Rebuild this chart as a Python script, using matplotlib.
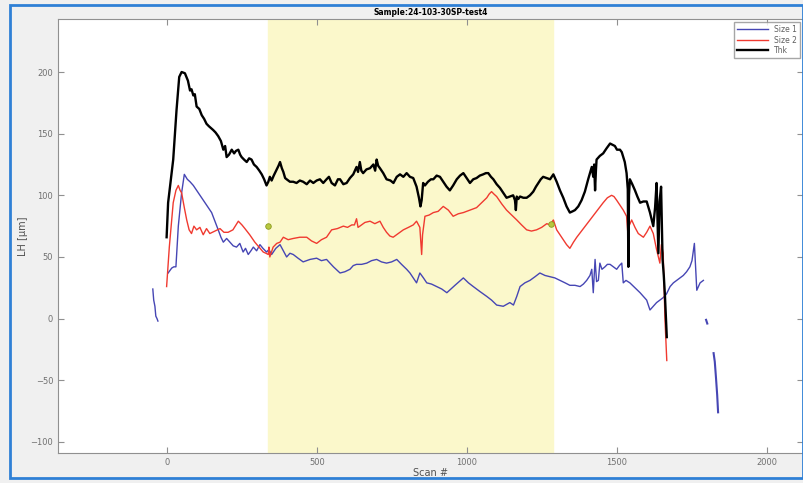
import numpy as np
from matplotlib import pyplot as plt
from matplotlib.patches import Rectangle

# Thk (black)
thk_x = [-1, 4, 21, 32, 41, 49, 60, 70, 77, 82, 88, 93, 99, 108, 116, 124, 132, 140, 154, 162,
         171, 180, 188, 194, 199, 207, 216, 224, 230, 238, 244, 249, 257, 266, 274, 282, 290,
         299, 308, 316, 324, 332, 338, 343, 349, 356, 366, 372, 377, 383, 388, 394, 399, 410,
         421, 432, 443, 454, 466, 477, 488, 499, 510, 521, 532, 540, 549, 560, 570, 577, 588,
         599, 610, 621, 632, 637, 643, 648, 654, 665, 677, 688, 694, 699, 704, 710, 721, 732,
         745, 755, 766, 777, 788, 799, 810, 821, 832, 840, 845, 849, 854, 860, 870, 880, 888,
         899, 910, 921, 932, 943, 954, 966, 977, 988, 999, 1010, 1021, 1032, 1043, 1054, 1063,
         1071, 1080, 1088, 1099, 1110, 1121, 1132, 1143, 1154, 1160, 1163, 1166, 1171, 1177,
         1188, 1199, 1210, 1221, 1230, 1238, 1246, 1254, 1265, 1277, 1288, 1299, 1310, 1321,
         1332, 1343, 1352, 1360, 1371, 1382, 1393, 1404, 1410, 1416, 1421, 1424, 1427, 1430,
         1432, 1443, 1454, 1465, 1477, 1485, 1493, 1500, 1510, 1516, 1521, 1526, 1532, 1536,
         1538, 1540, 1543, 1551, 1560, 1568, 1577, 1588, 1599, 1605, 1610, 1616, 1621, 1627,
         1632, 1635, 1638, 1642, 1647, 1650, 1652, 1656, 1660, 1666]
thk_y = [66, 94, 129, 169, 196, 200, 199, 193, 185, 186, 181, 182, 172, 170, 165, 162, 158, 156, 153, 151,
         148, 144, 137, 140, 131, 133, 137, 134, 136, 137, 133, 131, 129, 127, 130, 129, 125,
         123, 120, 117, 113, 108, 111, 115, 112, 116, 121, 124, 127, 122, 119, 114, 113, 111,
         111, 110, 112, 111, 109, 112, 110, 112, 113, 110, 113, 115, 110, 108, 113, 113, 109,
         110, 114, 117, 123, 119, 127, 120, 118, 121, 122, 125, 120, 129, 124, 122, 118, 113,
         112, 110, 115, 117, 115, 118, 115, 114, 107, 98, 91, 96, 110, 108, 111, 113, 113,
         116, 115, 111, 107, 104, 108, 113, 116, 118, 114, 110, 113, 114, 116, 117, 118,
         118, 115, 113, 109, 106, 102, 98, 99, 100, 96, 88, 99, 97, 99,
         98, 98, 100, 103, 107, 110, 113, 115, 114, 113, 117, 111, 104, 98,
         91, 86, 87, 88, 91, 96, 103, 113, 118, 123, 115, 125, 104, 121,
         129, 132, 134, 138, 142, 141, 140, 137, 137, 135, 131, 127, 118, 105,
         42, 100, 113, 109, 104, 99, 94, 95, 95, 90, 86, 80, 75, 90,
         110, 80, 53, 95, 107, 70, 48, 35, 18, -15]

# Size 2 (red)
s2_x = [-1, 8, 21, 30, 38, 44, 49, 58, 66, 74, 82, 90, 99, 110, 121, 132, 143, 160, 177, 190, 204,
        220, 238, 250, 260, 276, 293, 307, 321, 330, 338, 340, 343, 354, 366, 377, 388, 404, 421,
        443, 466, 482, 499, 515, 532, 549, 568, 588, 602, 616, 625, 632, 637, 643, 660, 677, 693,
        710, 721, 732, 743, 754, 771, 788, 805, 821, 832, 843, 847, 849, 852, 860, 874, 888, 904,
        921, 938, 954, 971, 988, 1010, 1032, 1049, 1066, 1074, 1082, 1090, 1099, 1116, 1132,
        1149, 1166, 1182, 1199, 1215, 1232, 1249, 1266, 1277, 1288, 1299, 1310, 1321, 1332,
        1343, 1355, 1366, 1388, 1410, 1432, 1454, 1468, 1482, 1490, 1499, 1510, 1521, 1532,
        1536, 1538, 1540, 1549, 1560, 1571, 1588, 1599, 1610, 1621, 1627, 1632, 1638, 1643,
        1648, 1654, 1660, 1666]
s2_y = [26, 58, 94, 104, 108, 104, 102, 90, 80, 72, 69, 75, 72, 74, 68, 73, 69, 71, 73, 70, 70,
        72, 79, 76, 73, 68, 62, 58, 54, 53, 52, 58, 50, 58, 61, 62, 66, 64, 65,
        66, 66, 63, 61, 64, 66, 72, 73, 75, 74, 76, 76, 81, 74, 75, 78, 79, 77,
        79, 74, 70, 67, 66, 69, 72, 74, 76, 79, 74, 60, 52, 68, 83, 84, 86, 87,
        91, 88, 83, 85, 86, 88, 90, 94, 98, 101, 103, 101, 99, 93, 88,
        84, 80, 76, 72, 71, 72, 74, 77, 76, 80, 72, 68, 64, 60,
        57, 62, 66, 73, 80, 87, 94, 98, 100, 99, 96, 92, 88, 83,
        70, 42, 75, 80, 74, 69, 66, 70, 75, 69, 62, 56, 50, 45,
        60, 53, -1, -34]

# Size 1 (blue), main trace plus loose fragments
s1_x = [4, 10, 16, 23, 30, 38, 44, 49, 58, 68, 77, 88, 99, 113, 127, 138, 149, 160, 171, 180, 188,
        199, 210, 221, 232, 243, 254, 262, 271, 280, 288, 299, 310, 320, 332, 340, 349, 363, 377,
        388, 399, 410, 421, 437, 454, 477, 499, 515, 532, 555, 577, 593, 610, 621, 632, 649, 666,
        682, 699, 715, 732, 749, 766, 782, 799, 810, 821, 832, 843, 855, 866, 882, 899, 916, 933,
        960, 988, 1005, 1021, 1043, 1066, 1082, 1099, 1121, 1143, 1155, 1166, 1177, 1193, 1210,
        1227, 1243, 1260, 1277, 1293, 1310, 1327, 1343, 1360, 1377, 1388, 1399, 1410, 1416, 1421,
        1427, 1432, 1438, 1443, 1450, 1460, 1468, 1477, 1488, 1499, 1508, 1516, 1521, 1530, 1543,
        1560, 1577, 1588, 1599, 1610, 1621, 1632, 1643, 1654, 1665, 1677, 1688, 1699, 1710, 1721,
        1732, 1743, 1750, 1758, 1766, 1777, 1788]
s1_y = [37, 39, 41, 42, 42, 75, 90, 102, 117, 113, 111, 108, 104, 99, 94, 90, 86, 79, 72, 66, 62,
        65, 62, 59, 58, 61, 54, 57, 52, 55, 58, 55, 60, 57, 54, 56, 52, 57, 60,
        55, 50, 53, 52, 49, 46, 48, 49, 47, 48, 42, 37, 38, 40, 43, 44, 44, 45,
        47, 48, 46, 45, 46, 48, 44, 40, 37, 33, 29, 37, 33, 29, 28, 26, 24, 21,
        27, 33, 29, 26, 22, 18, 15, 11, 10, 13, 11, 18, 26, 29, 31,
        34, 37, 35, 34, 33, 31, 29, 27, 27, 26, 28, 31, 35, 40, 21,
        48, 30, 31, 45, 40, 42, 44, 44, 42, 40, 43, 45, 29, 31, 29,
        25, 21, 18, 15, 7, 10, 13, 15, 17, 20, 26, 29, 31, 33, 35,
        38, 42, 47, 61, 23, 29, 31]
s1_left_x = [-47, -44, -40, -37, -33, -30]
s1_left_y = [24, 15, 10, 2, 0, -2]
s1_mid_x = [1797, 1801]
s1_mid_y = [-1, -4]
s1_end_x = [1822, 1826, 1830, 1834, 1837]
s1_end_y = [-28, -35, -48, -62, -76]

span = (337, 1287)
mark_x = [337, 1280]
mark_y = [75, 77]

fig = plt.figure(figsize=(8.04, 4.83), dpi=100, facecolor='#f0f0f0')
fig.patches.append(Rectangle((10 / 804, 5 / 483), 793 / 804, 473 / 483, transform=fig.transFigure,
                             fill=False, edgecolor='#2f80d6', lw=2))
ax = fig.add_axes([58 / 804, 1 - 453 / 483, 745 / 804, 434 / 483])
ax.set_facecolor('white')

ax.axvspan(*span, color='#fbf8cb', zorder=0)
ax.plot(s1_x, s1_y, color='#4646b4', lw=1.0, label='Size 1')
ax.plot(s1_left_x, s1_left_y, color='#4646b4', lw=1.0)
ax.plot(s1_mid_x, s1_mid_y, color='#4646b4', lw=1.5)
ax.plot(s1_end_x, s1_end_y, color='#4646b4', lw=1.5)
ax.plot(s2_x, s2_y, color='#f03a30', lw=1.0, label='Size 2')
ax.plot(thk_x, thk_y, color='black', lw=1.7, label='Thk')
ax.plot(mark_x, mark_y, 'o', ms=4, mfc='#b8c840', mec='#8a9a20', mew=0.6)

ax.set_xlim(-363, 2120)
ax.set_ylim(-109, 243)
ax.set_xticks([0, 500, 1000, 1500, 2000])
ax.set_yticks([-100, -50, 0, 50, 100, 150, 200])
ax.tick_params(direction='in', top=True, right=True, labelsize=6, labelcolor='#707070',
               color='#909090', length=4)
for s in ax.spines.values():
    s.set_color('#909090')

ax.set_title('Sample:24-103-30SP-test4', fontsize=5.5, fontweight='bold', pad=3)
ax.set_xlabel('Scan #', fontsize=7, color='#505050', labelpad=1)
ax.set_ylabel('LH [µm]', fontsize=7, color='#505050', labelpad=2)

leg = ax.legend(loc='upper right', fontsize=5.5, frameon=True, fancybox=False,
                handlelength=4, borderaxespad=0.4, labelspacing=0.2)
leg.get_frame().set_edgecolor('#909090')
for t in leg.get_texts():
    t.set_color('#606060')

fig.savefig('out.png', dpi=100, facecolor=fig.get_facecolor())
